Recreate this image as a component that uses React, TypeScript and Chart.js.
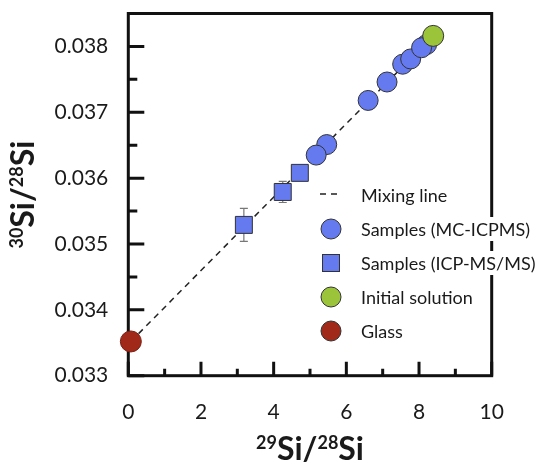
import React, { useEffect, useRef } from "react";
import { Chart, registerables } from "chart.js";

Chart.register(...registerables);

// ---- data ----
const xTicks = [0, 2, 4, 6, 8, 10];
const xMinorTicks = [1, 3, 5, 7, 9];
const yTicks = [0.033, 0.034, 0.035, 0.036, 0.037, 0.038];
const yMinorTicks = [0.0335, 0.0345, 0.0355, 0.0365, 0.0375];

const mixX = [0.07, 8.39];
const mixY = [0.03352, 0.03816];

const mcX = [5.46, 5.17, 6.6, 7.12, 7.55, 7.77, 8.21, 8.07];
const mcY = [0.03651, 0.03635, 0.03718, 0.03746, 0.03773, 0.03781, 0.03803, 0.03798];

const icpX = [3.18, 4.25, 4.72];
const icpY = [0.03529, 0.03579, 0.03608];
const icpErr = [0.00025, 0.00016, 0.0001];

const initX = [8.39];
const initY = [0.03816];

const glassX = [0.07];
const glassY = [0.03352];

const legendLabels = [
  "Mixing line",
  "Samples (MC-ICPMS)",
  "Samples (ICP-MS/MS)",
  "Initial solution",
  "Glass",
];

const xTitle = [
  { t: "29", sup: true },
  { t: "Si/", sup: false },
  { t: "28", sup: true },
  { t: "Si", sup: false },
];
const yTitle = [
  { t: "30", sup: true },
  { t: "Si/", sup: false },
  { t: "28", sup: true },
  { t: "Si", sup: false },
];

// ---- styles ----
const FONT = "Lato, 'Open Sans', sans-serif";
const BLUE = "#667af0";
const GREEN = "#9bc43a";
const RED = "#a0291a";
const OUTLINE = "#333333";
const TEXT = "#1a1a1a";

const pts = (xs: number[], ys: number[]) => xs.map((x, i) => ({ x, y: ys[i] }));

function drawSupText(
  ctx: CanvasRenderingContext2D,
  parts: { t: string; sup: boolean }[],
  cx: number,
  cy: number,
  big: number,
  small: number
) {
  let total = 0;
  const widths = parts.map((p) => {
    ctx.font = `bold ${p.sup ? small : big}px ${FONT}`;
    const w = ctx.measureText(p.t).width;
    total += w;
    return w;
  });
  let xx = cx - total / 2;
  ctx.textBaseline = "alphabetic";
  ctx.textAlign = "left";
  const base = cy + big * 0.36;
  const supBase = cy - big * 0.36 + small * 0.7;
  parts.forEach((p, i) => {
    ctx.font = `bold ${p.sup ? small : big}px ${FONT}`;
    ctx.fillText(p.t, xx, p.sup ? supBase : base);
    xx += widths[i];
  });
}

const framePlugin = {
  id: "frame",
  beforeDatasetsDraw(chart: any) {
    const { ctx, chartArea: a, scales } = chart;
    const xs = scales.x;
    const ys = scales.y;
    ctx.save();
    ctx.strokeStyle = "#111";
    ctx.lineWidth = 3;
    ctx.strokeRect(a.left, a.top, a.right - a.left, a.bottom - a.top);
    ctx.beginPath();
    yTicks.forEach((v) => {
      const p = ys.getPixelForValue(v);
      ctx.moveTo(a.left, p);
      ctx.lineTo(a.left + 16, p);
    });
    yMinorTicks.forEach((v) => {
      const p = ys.getPixelForValue(v);
      ctx.moveTo(a.left, p);
      ctx.lineTo(a.left + 9, p);
    });
    xTicks.forEach((v) => {
      const p = xs.getPixelForValue(v);
      ctx.moveTo(p, a.bottom);
      ctx.lineTo(p, a.bottom - 14);
    });
    xMinorTicks.forEach((v) => {
      const p = xs.getPixelForValue(v);
      ctx.moveTo(p, a.bottom);
      ctx.lineTo(p, a.bottom - 7);
    });
    ctx.stroke();

    // error bars
    ctx.strokeStyle = "#777";
    ctx.lineWidth = 1.2;
    ctx.beginPath();
    icpX.forEach((v, i) => {
      const px = xs.getPixelForValue(v);
      const top = ys.getPixelForValue(icpY[i] + icpErr[i]);
      const bot = ys.getPixelForValue(icpY[i] - icpErr[i]);
      ctx.moveTo(px, top);
      ctx.lineTo(px, bot);
      ctx.moveTo(px - 4, top);
      ctx.lineTo(px + 4, top);
      ctx.moveTo(px - 4, bot);
      ctx.lineTo(px + 4, bot);
    });
    ctx.stroke();
    ctx.restore();
  },
  afterDraw(chart: any) {
    const { ctx, chartArea: a } = chart;
    ctx.save();
    ctx.fillStyle = TEXT;
    // axis titles
    drawSupText(ctx, xTitle, (a.left + a.right) / 2, 448, 32, 18);
    ctx.save();
    ctx.translate(22, (a.top + a.bottom) / 2);
    ctx.rotate(-Math.PI / 2);
    drawSupText(ctx, yTitle, 0, 0, 32, 18);
    ctx.restore();

    // legend
    const mx = 331;
    const tx = 361;
    const y0 = 195;
    const step = 34;
    ctx.font = `18px ${FONT}`;
    ctx.textBaseline = "middle";
    ctx.textAlign = "left";
    legendLabels.forEach((lab, i) => {
      const cy = y0 + i * step;
      const w = ctx.measureText(lab).width;
      ctx.fillStyle = "#fff";
      ctx.fillRect(tx - 2, cy - 12, w + 4, 24);
      ctx.fillStyle = TEXT;
      ctx.fillText(lab, tx, cy + 1);
      ctx.strokeStyle = OUTLINE;
      ctx.lineWidth = 1;
      if (i === 0) {
        ctx.save();
        ctx.strokeStyle = "#222";
        ctx.lineWidth = 1.5;
        ctx.setLineDash([6, 5]);
        ctx.beginPath();
        ctx.moveTo(mx - 11, cy - 1);
        ctx.lineTo(mx + 11, cy - 1);
        ctx.stroke();
        ctx.restore();
      } else if (i === 2) {
        ctx.fillStyle = BLUE;
        ctx.fillRect(mx - 8.5, cy - 8.5, 17, 17);
        ctx.strokeRect(mx - 8.5, cy - 8.5, 17, 17);
      } else {
        ctx.fillStyle = i === 1 ? BLUE : i === 3 ? GREEN : RED;
        ctx.beginPath();
        ctx.arc(mx, cy, 10, 0, Math.PI * 2);
        ctx.fill();
        ctx.stroke();
      }
    });
    ctx.restore();
  },
};

export default function App() {
  const ref = useRef<HTMLCanvasElement>(null);
  useEffect(() => {
    const chart = new Chart(ref.current!, {
      type: "scatter",
      data: {
        datasets: [
          {
            label: legendLabels[0],
            data: pts(mixX, mixY),
            showLine: true,
            borderColor: "#222",
            borderWidth: 1.5,
            borderDash: [6, 5],
            pointRadius: 0,
            order: 5,
            clip: false,
          } as any,
          {
            label: legendLabels[2],
            data: pts(icpX, icpY),
            pointStyle: "rect",
            pointRadius: 12,
            backgroundColor: BLUE,
            borderColor: OUTLINE,
            borderWidth: 1,
            order: 4,
            clip: false,
          },
          {
            label: legendLabels[1],
            data: pts(mcX, mcY),
            pointStyle: "circle",
            pointRadius: 10,
            backgroundColor: BLUE,
            borderColor: OUTLINE,
            borderWidth: 1,
            order: 3,
            clip: false,
          },
          {
            label: legendLabels[3],
            data: pts(initX, initY),
            pointStyle: "circle",
            pointRadius: 10.5,
            backgroundColor: GREEN,
            borderColor: OUTLINE,
            borderWidth: 1,
            order: 2,
            clip: false,
          },
          {
            label: legendLabels[4],
            data: pts(glassX, glassY),
            pointStyle: "circle",
            pointRadius: 10.5,
            backgroundColor: RED,
            borderColor: "#7a1e12",
            borderWidth: 1,
            order: 1,
            clip: false,
          },
        ],
      },
      options: {
        responsive: false,
        animation: false,
        devicePixelRatio: 1,
        layout: { padding: { left: 0, top: 13.5, right: 49.3, bottom: 0 } },
        plugins: {
          legend: { display: false },
          tooltip: { enabled: false },
        },
        scales: {
          x: {
            type: "linear",
            min: 0,
            max: 10,
            afterBuildTicks: (s: any) => {
              s.ticks = xTicks.map((v) => ({ value: v }));
            },
            afterFit: (s: any) => {
              s.height = 88.3;
              s.paddingLeft = 0;
              s.paddingRight = 0;
              s.paddingTop = 0;
              s.paddingBottom = 0;
            },
            grid: { display: false, drawTicks: false, tickLength: 0 },
            border: { display: false },
            ticks: {
              padding: 24,
              autoSkip: false,
              maxRotation: 0,
              color: TEXT,
              font: { family: FONT, size: 21 },
              callback: (v: any) => String(v),
            },
          },
          y: {
            type: "linear",
            min: 0.033,
            max: 0.0385,
            afterBuildTicks: (s: any) => {
              s.ticks = yTicks.map((v) => ({ value: v }));
            },
            afterFit: (s: any) => {
              s.width = 128.3;
              s.paddingLeft = 0;
              s.paddingRight = 0;
              s.paddingTop = 0;
              s.paddingBottom = 0;
            },
            grid: { display: false, drawTicks: false, tickLength: 0 },
            border: { display: false },
            ticks: {
              padding: 20,
              autoSkip: false,
              color: TEXT,
              font: { family: FONT, size: 21 },
              callback: (v: any) => Number(v).toFixed(3),
            },
          },
        },
      },
      plugins: [framePlugin],
    });
    return () => chart.destroy();
  }, []);
  return (
    <div
      style={{
        position: "fixed",
        left: 0,
        top: 0,
        width: 541,
        height: 464,
        background: "#fff",
      }}
    >
      <canvas
        ref={ref}
        width={541}
        height={464}
        style={{ display: "block", width: 541, height: 464 }}
      />
    </div>
  );
}
